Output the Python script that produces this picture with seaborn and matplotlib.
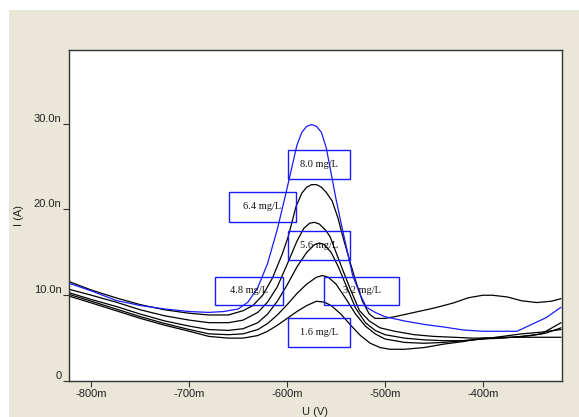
import matplotlib
matplotlib.use("Agg")
import matplotlib.pyplot as plt
import seaborn as sns
import pandas as pd
from matplotlib.patches import Rectangle
from matplotlib.ticker import FuncFormatter, FixedLocator

# ---- data (U in mV, I in nA) ----
concentrations = ["8.0 mg/L", "6.4 mg/L", "5.6 mg/L", "4.8 mg/L", "3.2 mg/L", "1.6 mg/L"]

u_80 = [-823, -800, -775, -750, -725, -700, -680, -665, -650, -640, -630, -620, -610, -600, -590, -585,
        -580, -575, -570, -565, -560, -555, -550, -545, -540, -533, -525, -519, -510, -500, -480, -460,
        -440, -420, -400, -380, -365, -350, -335, -320]
i_80 = [11.4, 10.5, 9.4, 8.8, 8.4, 8.1, 8.0, 8.1, 8.4, 9.2, 10.9, 13.7, 17.7, 22.5, 27.5, 29.0,
        29.7, 29.9, 29.7, 29.0, 27.2, 24.2, 21.2, 18.5, 15.9, 12.3, 10.0, 8.6, 8.0, 7.5, 7.0, 6.6,
        6.3, 5.95, 5.8, 5.8, 5.8, 6.6, 7.4, 8.6]

u_64 = [-823, -800, -775, -750, -725, -700, -680, -660, -645, -635, -625, -615, -605, -599, -591, -585,
        -580, -575, -570, -565, -560, -554, -548, -543, -536, -530, -523, -516, -510, -500, -490, -470,
        -450, -430, -415, -400, -390, -375, -360, -345, -330, -320]
i_64 = [11.6, 10.6, 9.7, 8.9, 8.3, 7.9, 7.7, 7.7, 8.2, 8.8, 10.0, 12.0, 14.8, 16.8, 20.3, 21.9,
        22.6, 22.9, 22.9, 22.6, 22.0, 21.0, 19.0, 16.8, 14.0, 11.7, 9.3, 7.8, 7.3, 7.3, 7.5, 8.0,
        8.5, 9.1, 9.7, 10.0, 10.0, 9.8, 9.35, 9.15, 9.3, 9.6]

u_56 = [-823, -800, -775, -750, -725, -700, -680, -660, -645, -630, -620, -610, -600, -590, -583, -577,
        -572, -567, -560, -556, -550, -543, -535, -526, -516, -505, -490, -470, -450, -430, -410, -390,
        -370, -350, -335, -320]
i_56 = [10.7, 10.0, 9.2, 8.3, 7.6, 7.1, 6.8, 6.8, 7.1, 8.0, 9.2, 11.0, 13.6, 16.3, 17.8, 18.4,
        18.5, 18.3, 17.5, 16.8, 15.0, 12.9, 10.6, 8.2, 7.0, 6.2, 5.8, 5.4, 5.2, 5.1, 5.0, 5.0,
        5.1, 5.3, 5.6, 6.2]

u_48 = [-823, -800, -775, -750, -725, -700, -680, -660, -645, -630, -620, -610, -600, -590, -580, -572,
        -567, -562, -555, -548, -540, -530, -520, -510, -500, -480, -460, -440, -420, -400, -380, -360,
        -340, -320]
i_48 = [10.3, 9.5, 8.7, 7.8, 7.0, 6.4, 6.0, 5.9, 6.1, 6.8, 7.8, 9.3, 11.2, 13.3, 15.0, 15.9,
        16.1, 15.9, 15.0, 13.4, 11.2, 8.5, 6.8, 5.9, 5.4, 5.0, 4.8, 4.7, 4.7, 4.9, 5.0, 5.2,
        5.5, 6.8]

u_32 = [-823, -800, -775, -750, -725, -700, -680, -660, -645, -630, -620, -610, -600, -590, -580, -570,
        -564, -558, -550, -540, -530, -520, -510, -500, -480, -460, -440, -420, -400, -380, -360, -340,
        -320]
i_32 = [10.1, 9.3, 8.4, 7.5, 6.7, 6.0, 5.5, 5.4, 5.5, 6.0, 6.7, 7.7, 8.9, 10.2, 11.3, 12.1,
        12.3, 12.1, 11.3, 9.6, 7.8, 6.4, 5.5, 4.9, 4.5, 4.4, 4.5, 4.7, 4.9, 5.2, 5.5, 5.7,
        6.0]

u_16 = [-823, -800, -775, -750, -725, -700, -680, -660, -645, -630, -620, -610, -600, -590, -580, -570,
        -562, -555, -545, -535, -525, -515, -505, -495, -480, -460, -440, -420, -400, -380, -360, -340,
        -320]
i_16 = [9.9, 9.1, 8.2, 7.3, 6.5, 5.8, 5.2, 5.0, 5.0, 5.3, 5.8, 6.5, 7.3, 8.1, 8.8, 9.3,
        9.2, 8.8, 7.8, 6.5, 5.3, 4.4, 3.9, 3.7, 3.7, 3.9, 4.3, 4.6, 5.0, 5.1, 5.1, 5.1,
        5.1]

x_ticks = [-800, -700, -600, -500, -400]
y_ticks = [0, 10, 20, 30]

# label boxes: (text, left, right, bottom, top) in data units
label_boxes = [
    ("8.0 mg/L", -598.7, -535.4, 23.6, 26.9),
    ("6.4 mg/L", -659.6, -590.8, 18.6, 22.0),
    ("5.6 mg/L", -598.7, -535.4, 14.15, 17.5),
    ("4.8 mg/L", -674.2, -603.8, 8.85, 12.16),
    ("3.2 mg/L", -562.0, -485.4, 8.85, 12.16),
    ("1.6 mg/L", -598.7, -535.4, 3.98, 7.4),
]

series = [(u_80, i_80), (u_64, i_64), (u_56, i_56), (u_48, i_48), (u_32, i_32), (u_16, i_16)]
frames = []
for name, (u, i) in zip(concentrations, series):
    frames.append(pd.DataFrame({"U": u, "I": i, "conc": name}))
df = pd.concat(frames, ignore_index=True)

sns.set_style("white")
plt.rcParams["font.family"] = ["Liberation Sans", "DejaVu Sans"]

fig = plt.figure(figsize=(5.79, 4.17), dpi=100)
fig.patch.set_facecolor("white")
fig.patches.append(Rectangle((9 / 579, 0), 1 - 9 / 579, 1 - 10 / 417, transform=fig.transFigure,
                             facecolor="#ebe7d8", edgecolor="none", zorder=-10))
ax = fig.add_axes([69 / 579, 36 / 417, (562 - 69) / 579, (381 - 50) / 417])
ax.set_facecolor("white")

palette = {c: "black" for c in concentrations}
palette["8.0 mg/L"] = "#1a1aff"
sns.lineplot(data=df, x="U", y="I", hue="conc", palette=palette, sort=False, estimator=None,
             legend=False, ax=ax, linewidth=0.9)
for line in ax.get_lines():
    if line.get_color() == "#1a1aff":
        line.set_zorder(5)

ax.set_xlim(-823, -319)
ax.set_ylim(0, 38.6)
ax.xaxis.set_major_locator(FixedLocator(x_ticks))
ax.yaxis.set_major_locator(FixedLocator(y_ticks))
ax.xaxis.set_major_formatter(FuncFormatter(lambda v, p: f"{int(round(v))}m"))
ax.yaxis.set_major_formatter(FuncFormatter(lambda v, p: "0" if v == 0 else f"{v:.1f}n"))
ax.tick_params(axis="both", direction="out", length=4.5, width=0.8, color="#333333",
               labelsize=8, labelcolor="#222222", pad=1, left=True, bottom=True)
for lab in ax.get_yticklabels():
    lab.set_verticalalignment("bottom")
for s in ax.spines.values():
    s.set_color("#333333")
    s.set_linewidth(1.0)

ax.set_xlabel("U (V)", fontsize=8, color="#222222", labelpad=6)
ax.set_ylabel("I (A)", fontsize=8, color="#222222", labelpad=7)

for text, l, r, b, t in label_boxes:
    ax.add_patch(Rectangle((l, b), r - l, t - b, facecolor="none", edgecolor="#1a1aff",
                           linewidth=1.0, zorder=6))
    ax.text((l + r) / 2, (b + t) / 2, text, ha="center", va="center", fontsize=7.5,
            family=["Liberation Serif", "DejaVu Serif"], color="#111111", zorder=7)

fig.savefig("out.png", dpi=100)
